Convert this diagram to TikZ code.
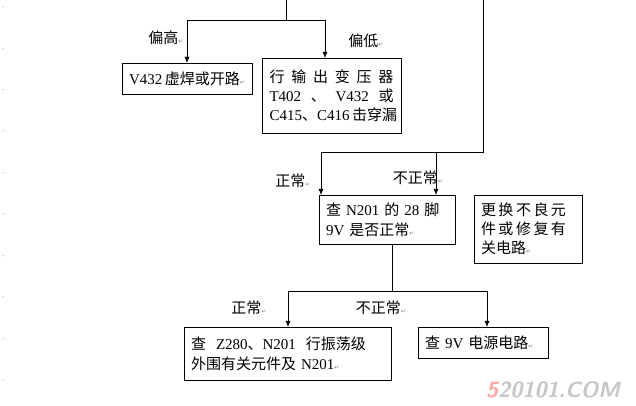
\documentclass[tikz,border=0pt]{standalone}
\usepackage{fontspec}
\setmainfont{Liberation Serif}
\newfontfamily\cjk{Noto Sans CJK SC}
\newfontfamily\symfont{DejaVu Sans}
\usetikzlibrary{arrows.meta}
\newcommand{\zh}[1]{{\cjk #1}}
\newcommand{\parmark}{{\color{gray}\symfont\fontsize{6}{6}\selectfont ↵}}
\begin{document}
\begin{tikzpicture}[x=1pt, y=-1pt, font=\fontsize{15}{20}\selectfont,
        box/.style={draw, rectangle, inner xsep=7pt, inner ysep=0pt, align=left},
        lbl/.style={inner sep=0pt},
        arr/.style={-{Latex[length=6pt,width=5pt]}}
        ]
        \useasboundingbox (0,0) rectangle (636,406);
        % boxes
        \node[box, minimum width=116, minimum height=31] (hi) at (187,78.5) {V432\,\zh{虚焊或开路}\parmark};
        \node[box, minimum width=139, minimum height=75] (lo) at (331.5,95.5)
          {\makebox[124pt][s]{\zh{行}\hfill\zh{输}\hfill\zh{出}\hfill\zh{变}\hfill\zh{压}\hfill\zh{器}}\\[-1pt]
           \makebox[124pt][s]{T402\hfill\zh{、}\hfill V432\hfill\zh{或}}\\[-1pt]
           \makebox[124pt][s]{C415\zh{、}C416\hfill\,\zh{击穿漏}}};
        \node[box, minimum width=136, minimum height=49, text width=122] (chk) at (387,219.5)
          {\zh{查} N201 \zh{的} 28 \zh{脚}\\9V \zh{是否正常}\parmark};
        \node[box, minimum width=108, minimum height=68, text width=94] (rep) at (528,229)
          {\zh{更\,换\,不\,良\,元}\\[-1pt]\zh{件\,或\,修\,复\,有}\\[-1pt]\zh{关电路}\parmark};
        \node[box, minimum width=207, minimum height=53, text width=193] (osc) at (287.5,353.5)
          {\zh{查}\ \ Z280\zh{、}N201\ \ \zh{行振荡级}\\\zh{外围有关元件及} N201\parmark};
        \node[box, minimum width=130, minimum height=31, text width=116] (pwr) at (483,342.5)
          {\zh{查} 9V \zh{电源电路}\parmark};
        % junctions
        \coordinate (t0) at (286,0);
        \coordinate (t1) at (286,20);
        \coordinate (tl) at (187,20);
        \coordinate (tr) at (325,20);
        \coordinate (r0) at (483,0);
        \coordinate (r1) at (483,152);
        \coordinate (rl) at (321,152);
        \coordinate (rm) at (436,152);
        \coordinate (c1) at (392,291);
        \coordinate (cl) at (288,291);
        \coordinate (cr) at (487,291);
        % connectors
        \draw (t0) -- (t1);
        \draw[arr] (t1) -- (tl) -- (hi.north -| tl);
        \draw[arr] (t1) -- (tr) -- (lo.north -| tr);
        \draw (r0) -- (r1) -- (rl);
        \draw[arr] (rl) -- (chk.north -| rl);
        \draw[arr] (rm) -- (rep.north -| rm);
        \draw (chk.south -| c1) -- (c1);
        \draw[arr] (c1) -- (cl) -- (osc.north -| cl);
        \draw[arr] (c1) -- (cr) -- (pwr.north -| cr);
        % labels
        \node[lbl] (l1) at (166,38) {\zh{偏高}\parmark};
        \node[lbl] (l2) at (366,41) {\zh{偏低}\parmark};
        \node[lbl] (l3) at (293,181) {\zh{正常}\parmark};
        \node[lbl] (l4) at (418,178) {\zh{不正常}\parmark};
        \node[lbl] (l5) at (249,308) {\zh{正常}\parmark};
        \node[lbl] (l6) at (381,308) {\zh{不正常}\parmark};
        % margin marks
        \foreach \y in {8,50,91,132,174,215,257,298,340,381}
          \node[lbl, gray, font=\tiny] at (3,\y) {\textlnot};
        \node[lbl, font=\sffamily\bfseries\itshape\fontsize{22}{22}\selectfont, color=gray!45] (wm) at (553,390)
          {\textcolor{red!35}{5}20101.COM};
\end{tikzpicture}
\end{document}
